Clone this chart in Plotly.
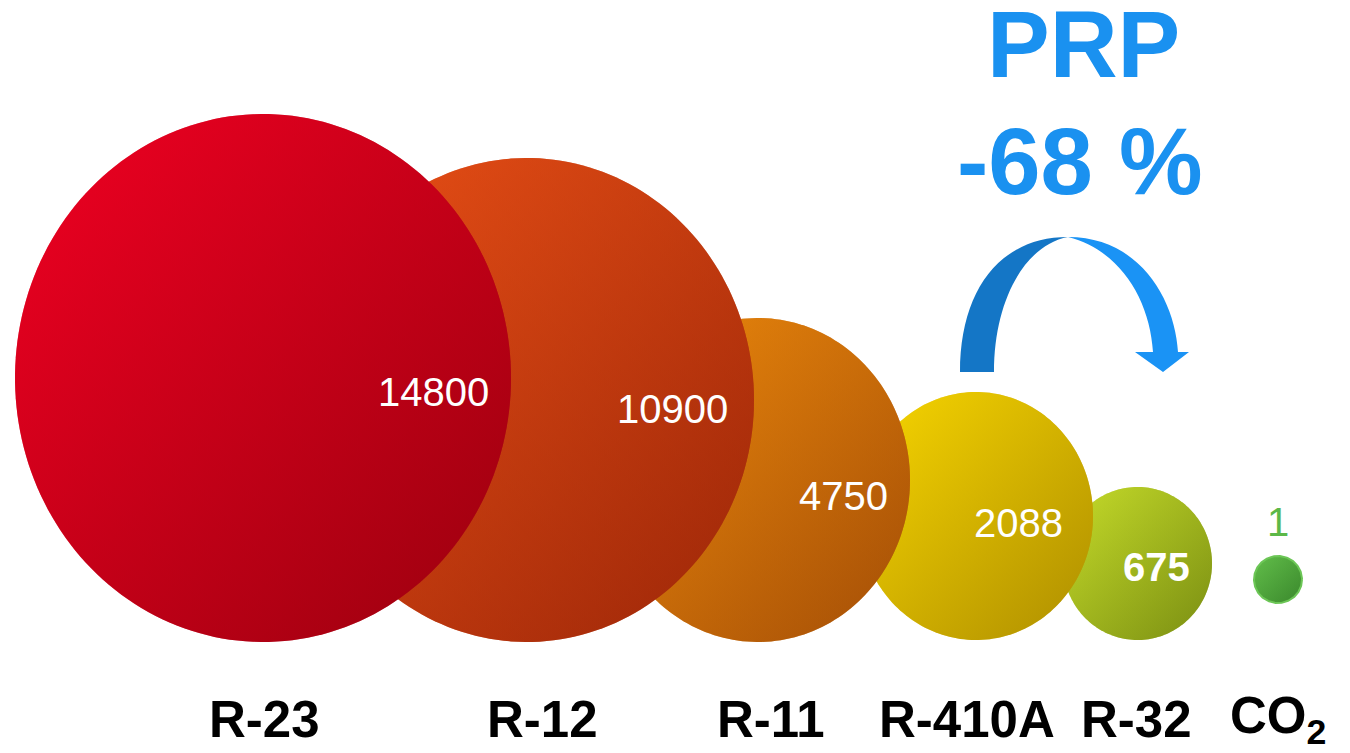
import numpy as np
import plotly.graph_objects as go

# ---------------- data ----------------
refrigerants = ["R-23", "R-12", "R-11", "R-410A", "R-32", "CO<sub>2</sub>"]
gwp_values = [14800, 10900, 4750, 2088, 675, 1]
headline = "PRP"
compare_from = "R-410A"
compare_to = "R-32"

# ---------------- styles / layout (pixel space) ----------------
W, H = 1350, 753
bubble_cx = [263, 527, 758, 976, 1137.5, 1278]
bubble_cy = [378, 400, 480, 516, 563.5, 579.5]
bubble_rx = [248, 227, 152, 117, 74.5, 24]
bubble_ry = [264, 242, 162, 124, 76.5, 23.5]
grad_start = ["#F00022", "#EA5016", "#EE8A0C", "#F8D600", "#C6DC2A", "#62BE4A"]
grad_end = ["#9A000E", "#9C2608", "#A44E06", "#AE8E00", "#7A8E12", "#3A882C"]
value_x = [433, 672, 843, 1018, 1156, 1278]
value_y = [392, 409, 496, 523, 567, 522]
value_color = ["white", "white", "white", "white", "white", "#5CB848"]
value_bold = [False, False, False, False, True, False]
name_x = [264, 542, 771, 967, 1136, 1278]
name_y = 719
FONT = "Liberation Sans, Arial, sans-serif"

fig = go.Figure()

t = np.linspace(0, 2 * np.pi, 200)
# draw smallest first so larger bubbles sit in front
for i in reversed(range(len(gwp_values))):
    cx, cy, rx, ry = bubble_cx[i], bubble_cy[i], bubble_rx[i], bubble_ry[i]
    xs = cx + rx * np.cos(t)
    ys = cy + ry * np.sin(t)
    cs = [[0, grad_start[i]], [1, grad_end[i]]]
    fig.add_trace(go.Scatter(
        x=xs, y=ys, fill="toself", mode="none", hoverinfo="skip", showlegend=False,
        fillgradient=dict(type="horizontal", colorscale=cs, start=cx - rx, stop=cx + rx),
    ))
    fig.add_trace(go.Scatter(
        x=xs, y=ys, fill="toself", mode="none", hoverinfo="skip", showlegend=False,
        opacity=0.5,
        fillgradient=dict(type="vertical", colorscale=cs, start=cy - ry, stop=cy + ry),
    ))
    if refrigerants[i].startswith("CO"):
        fig.add_trace(go.Scatter(
            x=xs, y=ys, mode="lines", line=dict(color="#6CC656", width=2),
            hoverinfo="skip", showlegend=False,
        ))

annotations = []
for i, v in enumerate(gwp_values):
    txt = f"{v}"
    if value_bold[i]:
        txt = f"<b>{txt}</b>"
    annotations.append(dict(
        x=value_x[i], y=value_y[i], xref="x", yref="y", text=txt, showarrow=False,
        font=dict(family=FONT, size=40, color=value_color[i]),
        xanchor="center", yanchor="middle",
    ))
    annotations.append(dict(
        x=name_x[i], y=name_y, xref="x", yref="y", text=f"<b>{refrigerants[i]}</b>",
        showarrow=False, font=dict(family=FONT, size=51, color="black"),
        xanchor="center", yanchor="middle",
    ))

i_from = refrigerants.index(compare_from)
i_to = refrigerants.index(compare_to)
reduction = round((gwp_values[i_to] - gwp_values[i_from]) / gwp_values[i_from] * 100)

annotations.append(dict(
    x=1083, y=44, xref="x", yref="y", text=f"<b>{headline}</b>", showarrow=False,
    font=dict(family=FONT, size=94, color="#1A91F0"), xanchor="center", yanchor="middle",
))
annotations.append(dict(
    x=1080, y=161, xref="x", yref="y", text=f"<b>{reduction} %</b>", showarrow=False,
    font=dict(family=FONT, size=94, color="#1A91F0"), xanchor="center", yanchor="middle",
))

shapes = [
    dict(type="path", xref="x", yref="y", layer="above",
         path="M 960,372 C 960,290 1000,237 1068,237 C 1025,245 994,300 994,372 Z",
         fillcolor="#1476C6", line=dict(width=0)),
    dict(type="path", xref="x", yref="y", layer="above",
         path=("M 1068,237 C 1140,237 1175,300 1178,352 L 1189,352 L 1163,372 "
               "L 1135,352 L 1153,352 C 1150,300 1120,250 1068,237 Z"),
         fillcolor="#1A93F5", line=dict(width=0)),
]

fig.update_layout(
    width=W, height=H, margin=dict(l=0, r=0, t=0, b=0),
    paper_bgcolor="white", plot_bgcolor="white",
    xaxis=dict(range=[0, W], visible=False, fixedrange=True),
    yaxis=dict(range=[H, 0], visible=False, fixedrange=True),
    annotations=annotations, shapes=shapes, showlegend=False,
)

fig.write_html(
    "out.html",
    config={"displayModeBar": False},
    post_script="document.body.style.margin='0';document.body.style.overflow='hidden';",
)
